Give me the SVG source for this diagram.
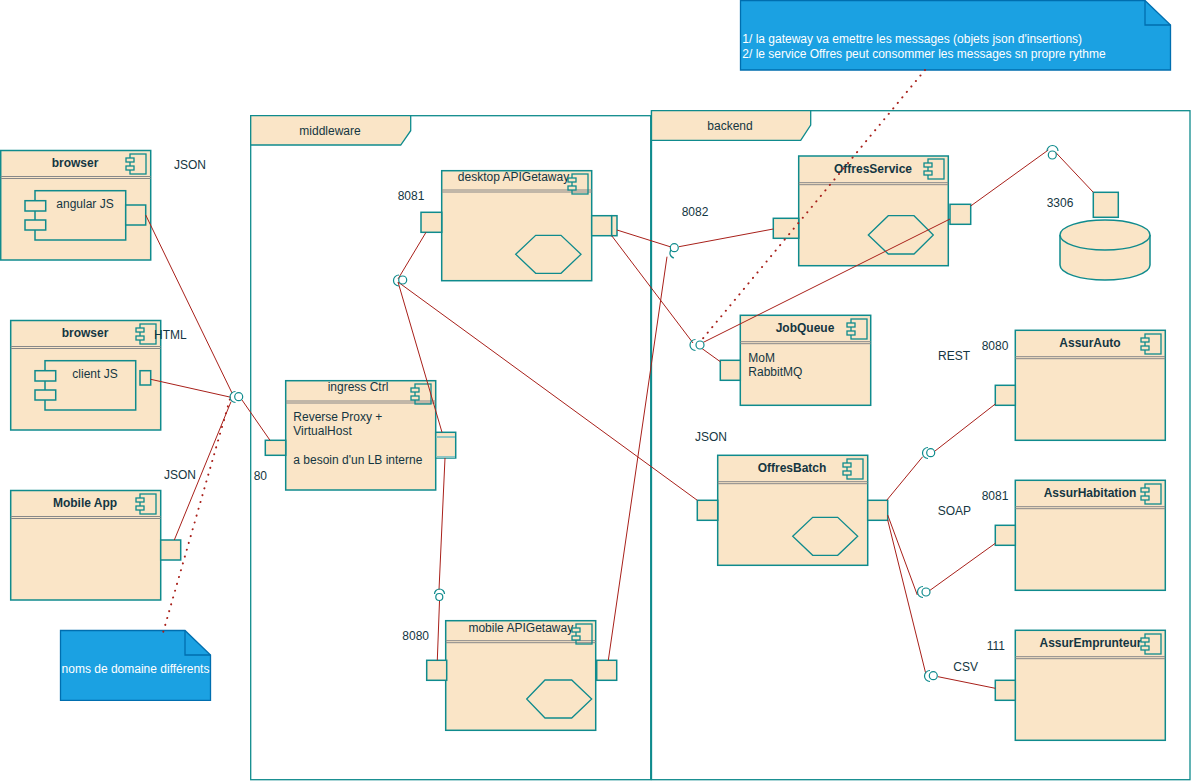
<svg xmlns="http://www.w3.org/2000/svg" width="1191" height="781" viewBox="0 0 1191 781">
<style>
.box{fill:#FAE5C7;stroke:#0F8B8D;stroke-width:1.5}
.port{fill:#FAE5C7;stroke:#0F8B8D;stroke-width:1.5}
.hex{fill:none;stroke:#0F8B8D;stroke-width:1.3}
.sep{stroke:#888;stroke-width:1}
.frame{fill:none;stroke:#0F8B8D;stroke-width:1.3}
.tab{fill:#FAE5C7;stroke:#0F8B8D;stroke-width:1.3}
.t{font-family:"Liberation Sans",Arial,sans-serif;font-size:12px;fill:#143642}
.b{font-weight:bold}
.m{text-anchor:middle}
.w{fill:#ffffff}
.edge{fill:none;stroke:#A8201A;stroke-width:1}
.dot{fill:none;stroke:#A8201A;stroke-width:2;stroke-dasharray:0.1 7;stroke-linecap:round}
.ball{fill:#fff;stroke:#0F8B8D;stroke-width:1.2}
.sock{fill:none;stroke:#0F8B8D;stroke-width:1.2}
.note{fill:#1BA1E2;stroke:#006EAF;stroke-width:1.3}
</style>
<defs>
<g id="ico">
<rect x="4" y="0" width="16" height="20" fill="none" stroke="#0F8B8D" stroke-width="1.3"/>
<rect x="0" y="4" width="8" height="4" fill="#FAE5C7" stroke="#0F8B8D" stroke-width="1.3"/>
<rect x="0" y="12" width="8" height="4" fill="#FAE5C7" stroke="#0F8B8D" stroke-width="1.3"/>
</g>
</defs>

<!-- packages -->
<g id="middleware">
<rect class="frame" x="250.7" y="115.7" width="400" height="664"/>
<path class="tab" d="M250.7,115.7 H410.7 V130.7 L400.7,145 H250.7 Z"/>
<text class="t m" x="330" y="135">middleware</text>
</g>
<g id="backend">
<rect class="frame" x="651.5" y="110.7" width="538.5" height="669"/>
<path class="tab" d="M651.5,110.7 H810.7 V125 L800.7,140.3 H651.5 Z"/>
<text class="t m" x="730" y="130">backend</text>
</g>

<!-- nodes -->
<g id="browser1">
<rect class="box" x="0.7" y="150.5" width="150" height="109.5"/>
<line class="sep" x1="0.7" y1="176.5" x2="150.7" y2="176.5"/>
<line class="sep" x1="0.7" y1="178.5" x2="150.7" y2="178.5"/>
<text class="t b m" x="75" y="167">browser</text>
<use href="#ico" x="126" y="154"/>
<rect class="box" x="35" y="190.7" width="90.7" height="49.3"/>
<rect class="port" x="25" y="200.7" width="20.7" height="10.3"/>
<rect class="port" x="25" y="220" width="20.7" height="10"/>
<text class="t m" x="85" y="208">angular JS</text>
<rect class="port" x="125.7" y="205" width="20" height="20"/>
</g>
<text class="t" x="174" y="169.3">JSON</text>

<g id="browser2">
<rect class="box" x="10.7" y="320.5" width="150" height="109.5"/>
<line class="sep" x1="10.7" y1="346.5" x2="160.7" y2="346.5"/>
<line class="sep" x1="10.7" y1="348.5" x2="160.7" y2="348.5"/>
<text class="t b m" x="85" y="337">browser</text>
<use href="#ico" x="136" y="324"/>
<rect class="box" x="45" y="360.7" width="90.7" height="49.3"/>
<rect class="port" x="35" y="370.7" width="20.7" height="10.3"/>
<rect class="port" x="35" y="390" width="20.7" height="10"/>
<text class="t m" x="95" y="378">client JS</text>
<rect class="port" x="140" y="370.7" width="10.7" height="14.3"/>
</g>
<text class="t" x="154" y="339.3">HTML</text>

<g id="mobileapp">
<rect class="box" x="10.7" y="490.5" width="150" height="109.5"/>
<line class="sep" x1="10.7" y1="516.5" x2="160.7" y2="516.5"/>
<line class="sep" x1="10.7" y1="518.5" x2="160.7" y2="518.5"/>
<text class="t b m" x="85" y="507">Mobile App</text>
<use href="#ico" x="136" y="494"/>
<rect class="port" x="160.7" y="540" width="20" height="20"/>
</g>
<text class="t" x="164" y="479.3">JSON</text>

<g id="desktopapi">
<rect class="box" x="441.7" y="170.7" width="150" height="110"/>
<line class="sep" x1="441.7" y1="190" x2="592" y2="190"/>
<line class="sep" x1="441.7" y1="192" x2="592" y2="192"/>
<text class="t m" x="513.5" y="181">desktop APIGetaway</text>
<use href="#ico" x="568" y="174"/>
<rect class="port" x="421" y="212.3" width="20.7" height="20"/>
<rect class="port" x="591.7" y="215.7" width="20" height="20"/>
<rect class="port" x="611.7" y="215.7" width="5.3" height="20"/>
<polygon class="hex" points="515.7,254.3 535.7,235.3 561,235.3 581,254.3 561,273.3 535.7,273.3"/>
</g>
<text class="t" x="397.7" y="200">8081</text>

<g id="ingress">
<rect class="box" x="285.7" y="380.7" width="150" height="109.3"/>
<line class="sep" x1="285.7" y1="401" x2="435.7" y2="401"/>
<line class="sep" x1="285.7" y1="403" x2="435.7" y2="403"/>
<text class="t m" x="358" y="391">ingress Ctrl</text>
<use href="#ico" x="411" y="384"/>
<text class="t" x="293.3" y="421">Reverse Proxy +</text>
<text class="t" x="293.3" y="435">VirtualHost</text>
<text class="t" x="293.3" y="464">a besoin d'un LB interne</text>
<rect class="port" x="265.3" y="440.3" width="20.4" height="15"/>
<rect class="port" x="435.7" y="432.3" width="20" height="25.7"/>
<line stroke="#8cc6c4" stroke-width="2" x1="436.5" y1="437" x2="455" y2="437"/>
<line stroke="#8cc6c4" stroke-width="2" x1="436.5" y1="457" x2="455" y2="457"/>
</g>
<text class="t" x="253.7" y="480">80</text>

<g id="mobileapi">
<rect class="box" x="445.7" y="620.7" width="150" height="109.6"/>
<line class="sep" x1="445.7" y1="640.7" x2="595.7" y2="640.7"/>
<line class="sep" x1="445.7" y1="642.7" x2="595.7" y2="642.7"/>
<text class="t m" x="520.8" y="631.5">mobile APIGetaway</text>
<use href="#ico" x="572" y="624"/>
<rect class="port" x="426.7" y="660.3" width="20" height="20"/>
<rect class="port" x="596.7" y="660.3" width="20" height="20"/>
<polygon class="hex" points="526.7,699 545,680 571.7,680 591.7,699 571.7,718 545,718"/>
</g>
<text class="t" x="402.3" y="640">8080</text>

<g id="offresservice">
<rect class="box" x="798.7" y="156" width="149.6" height="109.7"/>
<line class="sep" x1="798.7" y1="182.7" x2="948.3" y2="182.7"/>
<line class="sep" x1="798.7" y1="184.7" x2="948.3" y2="184.7"/>
<text class="t b m" x="873" y="173">OffresService</text>
<use href="#ico" x="924" y="159"/>
<rect class="port" x="773.3" y="218.3" width="25.4" height="20"/>
<rect class="port" x="950" y="204.3" width="20.7" height="20"/>
<polygon class="hex" points="868.3,235 888.3,215.7 914,215.7 933.3,235 914,254 888.3,254"/>
</g>
<text class="t" x="681.7" y="216">8082</text>

<g id="database">
<rect class="port" x="1093.3" y="192.3" width="25" height="25"/>
<path class="box" d="M1060,235 V265 A45,15 0 0 0 1150,265 V235"/>
<ellipse class="box" cx="1105" cy="235" rx="45" ry="15"/>
</g>
<text class="t" x="1046.7" y="206.5">3306</text>

<g id="jobqueue">
<rect class="box" x="740.3" y="315.3" width="130.4" height="90"/>
<line class="sep" x1="740.3" y1="341.7" x2="870.7" y2="341.7"/>
<line class="sep" x1="740.3" y1="343.7" x2="870.7" y2="343.7"/>
<text class="t b m" x="805" y="332">JobQueue</text>
<use href="#ico" x="847" y="319"/>
<text class="t" x="748.3" y="362">MoM</text>
<text class="t" x="748.3" y="376">RabbitMQ</text>
<rect class="port" x="720.3" y="360.3" width="20" height="20"/>
</g>

<g id="offresbatch">
<rect class="box" x="717.7" y="455.3" width="150" height="110"/>
<line class="sep" x1="717.7" y1="481.7" x2="867.7" y2="481.7"/>
<line class="sep" x1="717.7" y1="483.7" x2="867.7" y2="483.7"/>
<text class="t b m" x="792" y="472">OffresBatch</text>
<use href="#ico" x="843" y="459"/>
<rect class="port" x="697.3" y="500.3" width="20.4" height="20"/>
<rect class="port" x="867.7" y="500.3" width="20" height="20"/>
<polygon class="hex" points="792.7,536.3 812.7,517.3 837.7,517.3 857.7,536.3 837.7,555.3 812.7,555.3"/>
</g>
<text class="t" x="695" y="440.5">JSON</text>

<g id="assurauto">
<rect class="box" x="1015.3" y="330.3" width="150" height="110"/>
<line class="sep" x1="1015.3" y1="356.7" x2="1165.3" y2="356.7"/>
<line class="sep" x1="1015.3" y1="358.7" x2="1165.3" y2="358.7"/>
<text class="t b m" x="1090" y="347">AssurAuto</text>
<use href="#ico" x="1141" y="334"/>
<rect class="port" x="995.3" y="385.3" width="20" height="20"/>
</g>
<text class="t" x="981.7" y="350">8080</text>
<text class="t" x="938" y="360">REST</text>

<g id="assurhabitation">
<rect class="box" x="1015.3" y="480.3" width="150" height="110"/>
<line class="sep" x1="1015.3" y1="506.7" x2="1165.3" y2="506.7"/>
<line class="sep" x1="1015.3" y1="508.7" x2="1165.3" y2="508.7"/>
<text class="t b m" x="1090" y="497">AssurHabitation</text>
<use href="#ico" x="1141" y="484"/>
<rect class="port" x="995.3" y="525.3" width="20" height="20"/>
</g>
<text class="t" x="981.7" y="500">8081</text>
<text class="t" x="937.7" y="514.5">SOAP</text>

<g id="assuremprunteur">
<rect class="box" x="1015.3" y="630.3" width="150" height="110"/>
<line class="sep" x1="1015.3" y1="656.7" x2="1165.3" y2="656.7"/>
<line class="sep" x1="1015.3" y1="658.7" x2="1165.3" y2="658.7"/>
<text class="t b m" x="1090.5" y="647">AssurEmprunteur</text>
<use href="#ico" x="1141" y="634"/>
<rect class="port" x="995.3" y="680.3" width="20" height="20"/>
</g>
<text class="t" x="986.7" y="650">111</text>
<text class="t" x="953.3" y="670.5">CSV</text>

<g id="note1">
<path class="note" d="M740.5,0.5 H1145 L1170.5,25 V70 H740.5 Z"/>
<path fill="none" stroke="#006EAF" stroke-width="1.3" d="M1145,0.5 V25 H1170.5"/>
<text class="t w" x="742.3" y="43">1/ la gateway va emettre les messages (objets json d'insertions)</text>
<text class="t w" x="742.3" y="57.5">2/ le service Offres peut consommer les messages sn propre rythme</text>
</g>

<g id="note2">
<path class="note" d="M60.5,630.5 H185 L210.5,655 V700.3 H60.5 Z"/>
<path fill="none" stroke="#006EAF" stroke-width="1.3" d="M185,630.5 V655 H210.5"/>
<text class="t w m" x="135.5" y="673">noms de domaine différents</text>
</g>

<!-- connectors -->
<g id="connectors">
<line class="edge" x1="145.7" y1="215" x2="232" y2="393"/>
<line class="edge" x1="150.7" y1="379.3" x2="231" y2="397.3"/>
<line class="edge" x1="174.3" y1="540" x2="231" y2="401.7"/>
<line class="edge" x1="242" y1="400" x2="270" y2="440.3"/>
<line class="edge" x1="426" y1="232.3" x2="398" y2="279"/>
<line class="edge" x1="398" y1="282" x2="442" y2="432.3"/>
<line class="edge" x1="398" y1="282" x2="697.3" y2="500.3"/>
<line class="edge" x1="445" y1="458" x2="439" y2="590"/>
<line class="edge" x1="439.5" y1="601" x2="437.3" y2="660.3"/>
<line class="edge" x1="608.3" y1="660.3" x2="667" y2="256.7"/>
<line class="edge" x1="617" y1="230" x2="671" y2="247"/>
<line class="edge" x1="679" y1="246.7" x2="773.3" y2="229"/>
<line class="edge" x1="611.7" y1="235.7" x2="693" y2="343"/>
<line class="edge" x1="702" y1="343" x2="950" y2="219"/>
<line class="edge" x1="701.7" y1="348.3" x2="720.3" y2="361.7"/>
<line class="edge" x1="970.7" y1="206" x2="1048.3" y2="150"/>
<line class="edge" x1="1055" y1="151.7" x2="1093.3" y2="192.3"/>
<line class="edge" x1="886.7" y1="500.3" x2="922.7" y2="456.7"/>
<line class="edge" x1="935" y1="451" x2="995.3" y2="404"/>
<line class="edge" x1="887.7" y1="515" x2="917.3" y2="595"/>
<line class="edge" x1="929" y1="591" x2="995.3" y2="543.3"/>
<line class="edge" x1="887.7" y1="520" x2="925.7" y2="673.3"/>
<line class="edge" x1="938" y1="676.7" x2="995.3" y2="688.3"/>
<line class="dot" x1="163.3" y1="631.7" x2="230" y2="399"/>
<line class="dot" x1="925" y1="70" x2="700" y2="342"/>
<!-- interface symbols -->
<path class="sock" d="M235.5,391.5 A5.5,5.5 0 0 0 235.5,402.5"/>
<circle class="ball" cx="238.7" cy="396.7" r="4"/>
<path class="sock" d="M399,275 A5.5,5.5 0 0 0 399,286"/>
<circle class="ball" cx="402.7" cy="280" r="4"/>
<path class="sock" d="M434.5,594 A5,5 0 0 1 444.5,594"/>
<circle class="ball" cx="439.3" cy="597" r="3.5"/>
<path class="sock" d="M671.5,249.5 A5,5 0 0 0 674,258"/>
<circle class="ball" cx="674.3" cy="247.7" r="4"/>
<path class="sock" d="M695.5,339.5 A5.5,5.5 0 0 0 695.5,350.5"/>
<circle class="ball" cx="700" cy="345" r="4"/>
<path class="sock" d="M1047,151 A5.5,5.5 0 0 1 1058,151"/>
<circle class="ball" cx="1052.3" cy="155" r="4"/>
<path class="sock" d="M928,447.5 A5.5,5.5 0 0 0 928,458.5"/>
<circle class="ball" cx="930.7" cy="452.7" r="4"/>
<path class="sock" d="M923,586.5 A5.5,5.5 0 0 0 923,597.5"/>
<circle class="ball" cx="926" cy="592" r="4"/>
<path class="sock" d="M930,670.5 A5.5,5.5 0 0 0 930,681.5"/>
<circle class="ball" cx="933.3" cy="675.7" r="4"/>
</g>
</svg>
